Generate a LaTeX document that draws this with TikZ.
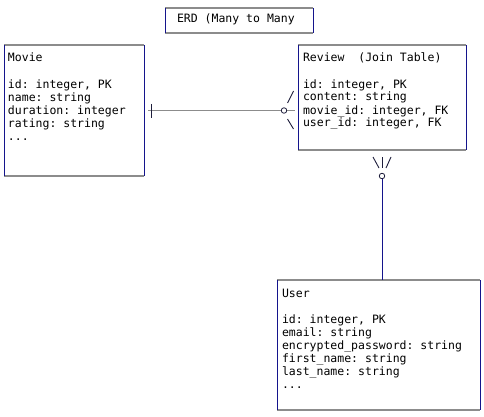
\documentclass[tikz,border=0pt]{standalone}
\usepackage{fontspec}
\setmonofont{DejaVu Sans Mono}
\definecolor{navyedge}{RGB}{20,20,140}
\definecolor{grayedge}{RGB}{140,140,140}
\definecolor{footcol}{RGB}{30,30,60}
\tikzset{
  boxnode/.style={draw=none, inner sep=0pt, outer sep=0pt, anchor=north west},
  hedge/.style={draw=grayedge, line width=1.2pt},
  vedge/.style={draw=navyedge, line width=1pt},
  boxtext/.style={inner sep=0pt, outer sep=0pt, anchor=north west, align=left,
    font=\ttfamily\fontsize{11.5}{13}\selectfont},
  relgray/.style={draw=grayedge, line width=1.6pt},
  relnavy/.style={draw=navyedge, line width=0.9pt},
  foot/.style={draw=footcol, line width=0.9pt},
  ring/.style={circle, draw=footcol, fill=white, line width=0.8pt, minimum size=5.5pt, inner sep=0pt}
}
\newcommand{\erdbox}[1]{%
  \draw[hedge] (#1.north west) -- (#1.north east);
  \draw[hedge] (#1.south west) -- (#1.south east);
  \draw[vedge] (#1.north west) -- (#1.south west);
  \draw[vedge] (#1.north east) -- (#1.south east);
}
\begin{document}
\begin{tikzpicture}[x=1pt,y=-1pt]
\useasboundingbox[fill=white] (0,0) rectangle (484,417);

% boxes
\node[boxnode, minimum width=148pt, minimum height=25pt] (title) at (165,8) {};
\node[boxnode, minimum width=140pt, minimum height=131pt] (movie) at (4,45) {};
\node[boxnode, minimum width=168pt, minimum height=105pt] (review) at (298,45) {};
\node[boxnode, minimum width=203pt, minimum height=130pt] (user) at (277,280) {};
\erdbox{title}
\erdbox{movie}
\erdbox{review}
\erdbox{user}

% texts
\node[boxtext] (titletext) at (177,14) {\rule{0pt}{9pt}ERD (Many to Many};
\node[boxtext] (movietext) at (8,53) {\rule{0pt}{9pt}Movie\\[13pt]id: integer, PK\\name: string\\duration: integer\\rating: string\\...};
\node[boxtext] (reviewtext) at (303,53) {\rule{0pt}{9pt}Review\ \ (Join Table)\\[13pt]id: integer, PK\\content: string\\movie\_id: integer, FK\\user\_id: integer, FK};
\node[boxtext] (usertext) at (282,288) {\rule{0pt}{9pt}User\\[13pt]id: integer, PK\\email: string\\encrypted\_password: string\\first\_name: string\\last\_name: string\\...};

% Movie -- Review relationship
\coordinate (mrstart) at (148,110.5);
\coordinate (mrend) at (295,110.5);
\node[ring] (mrring) at (284,110.5) {};
\draw[relgray] (mrstart) -- (mrring.west);
\draw[relgray] (mrring.east) -- (mrend);
\coordinate (mrtickA) at (151,104);
\coordinate (mrtickB) at (151,118);
\draw[foot] (mrtickA) -- (mrtickB);
\coordinate (mrfootA1) at (287.5,103);
\coordinate (mrfootA2) at (293.5,91);
\coordinate (mrfootB1) at (287.5,119);
\coordinate (mrfootB2) at (293.5,129);
\draw[foot] (mrfootA1) -- (mrfootA2);
\draw[foot] (mrfootB1) -- (mrfootB2);

% Review -- User relationship
\node[ring] (ruring) at (382,176) {};
\coordinate (ruend) at (382,280);
\draw[relnavy] (ruring.south) -- (ruend);
\coordinate (rufootL1) at (373,157);
\coordinate (rufootL2) at (379,168);
\coordinate (rufootM1) at (382,157);
\coordinate (rufootM2) at (382,168);
\coordinate (rufootR1) at (391,157);
\coordinate (rufootR2) at (386,168);
\draw[foot] (rufootL1) -- (rufootL2);
\draw[foot] (rufootM1) -- (rufootM2);
\draw[foot] (rufootR1) -- (rufootR2);
\end{tikzpicture}
\end{document}
